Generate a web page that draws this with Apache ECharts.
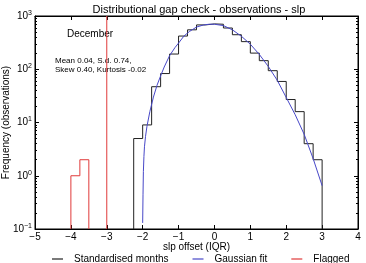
<!DOCTYPE html>
<html>
<head>
<meta charset="utf-8">
<script src="https://cdn.jsdelivr.net/npm/echarts@6/dist/echarts.min.js"></script>
<style>
html, body { margin: 0; padding: 0; background: #fff; }
#chart { width: 366px; height: 263px; }
</style>
</head>
<body>
<div id="chart"></div>
<script>
// histogram of standardised months, bins of 0.25 starting at -2.25
const binStart = -2.25
const binWidth = 0.25
const monthCounts = [5, 9, 47, 83, 193, 420, 550, 680, 710, 700, 595, 445, 330, 201, 145, 94, 59, 27, 16, 4, 2]

// flagged values, same bin width
const flaggedStart = -4
const flaggedCounts = [1, 2]

// gaussian fit curve
const fitX = [-2.0, -1.99, -1.98, -1.965, -1.95, -1.92, -1.88, -1.8, -1.7, -1.6, -1.5, -1.4, -1.25, -1.1, -1.0, -0.85, -0.7, -0.5, -0.3, -0.15, 0.0, 0.25, 0.5, 0.75, 1.0, 1.25, 1.5, 1.75, 2.0, 2.25, 2.5, 2.75, 3.0]
const fitY = [0.13, 0.45, 1.2, 2.3, 3.5, 5.5, 8.5, 16, 30, 50, 75, 110, 180, 255, 310, 420, 510, 620, 680, 700, 700, 660, 550, 417, 295, 190, 113, 62, 29.5, 14, 6, 2.1, 0.65]

const flagLine = -3
const xTicks = [-5, -4, -3, -2, -1, 0, 1, 2, 3, 4]
const yExponents = [-1, 0, 1, 2, 3]
const yFloor = Math.pow(10, yExponents[0])
const yTop = Math.pow(10, yExponents[yExponents.length - 1])

const stepPath = (start, width, counts) => {
  const pts = [[start, yFloor]]
  counts.forEach((c, i) => {
    pts.push([start + i * width, c])
    pts.push([start + (i + 1) * width, c])
  })
  pts.push([start + counts.length * width, yFloor])
  return pts
}

const font = 'Liberation Sans'
const minus = (v) => String(v).replace('-', '\u2212')

const black = '#222'
const blue = '#4848c8'
const red = '#e03a3a'

const chart = echarts.init(document.getElementById('chart'), null, { renderer: 'canvas' })

const xBase = {
  type: 'value',
  min: xTicks[0],
  max: xTicks[xTicks.length - 1],
  interval: 1,
  splitLine: { show: false },
  axisLine: { show: true, onZero: false, lineStyle: { color: '#000', width: 1 } },
  axisTick: { show: true, inside: true, length: 4, lineStyle: { color: '#000' } }
}

const yBase = {
  type: 'log',
  logBase: 10,
  min: yFloor,
  max: yTop,
  splitLine: { show: false },
  axisLine: { show: true, onZero: false, lineStyle: { color: '#000', width: 1 } },
  axisTick: { show: true, inside: true, length: 4, lineStyle: { color: '#000' } },
  minorTick: { show: true, splitNumber: 9, length: 2, lineStyle: { color: '#000' } }
}

const option = {
  animation: false,
  backgroundColor: '#fff',
  textStyle: { fontFamily: font },
  grid: { left: 35, right: 8, top: 16, bottom: 34, outerBoundsMode: 'none', show: true, borderColor: '#000', borderWidth: 1 },
  graphic: [
    { type: 'text', x: 199, y: 4, style: { text: 'Distributional gap check - observations - slp', font: '11px ' + font, fill: '#000', textAlign: 'center' } },
    { type: 'text', x: 67, y: 29, style: { text: 'December', font: '10px ' + font, fill: '#000' } },
    { type: 'text', x: 55, y: 56, style: { text: 'Mean 0.04, S.d. 0.74,\nSkew 0.40, Kurtosis -0.02', font: '8px ' + font, lineHeight: 9, fill: '#000' } }
  ],
  legend: {
    left: 52,
    top: 254,
    padding: 0,
    icon: 'rect',
    itemWidth: 11,
    itemHeight: 1.2,
    itemGap: 24,
    textStyle: { fontFamily: font, fontSize: 10, color: '#000', padding: [0, 0, 0, 6] },
    data: ['Standardised months', 'Gaussian fit', 'Flagged']
  },
  xAxis: [
    Object.assign({}, xBase, {
      position: 'bottom',
      name: 'slp offset (IQR)',
      nameLocation: 'middle',
      nameGap: 13,
      nameMoveOverlap: false,
      nameTextStyle: { fontFamily: font, fontSize: 10, color: '#000' },
      axisLabel: { margin: 3, fontFamily: font, fontSize: 10, color: '#000', formatter: minus }
    }),
    Object.assign({}, xBase, { position: 'top', axisLabel: { show: false } })
  ],
  yAxis: [
    Object.assign({}, yBase, {
      position: 'left',
      name: 'Frequency (observations)',
      nameLocation: 'middle',
      nameGap: 24,
      nameMoveOverlap: false,
      nameTextStyle: { fontFamily: font, fontSize: 10, color: '#000' },
      axisLabel: {
        margin: 3,
        color: '#000',
        formatter: (v) => '10{sup|' + minus(Math.round(Math.log10(v))) + '}',
        rich: {
          sup: { fontSize: 7, fontFamily: font, color: '#000', verticalAlign: 'top', padding: [0, 0, 6, 0] }
        },
        fontFamily: font,
        fontSize: 10
      }
    }),
    Object.assign({}, yBase, { position: 'right', axisLabel: { show: false } })
  ],
  series: [
    {
      name: 'Standardised months',
      type: 'line',
      data: stepPath(binStart, binWidth, monthCounts),
      symbol: 'none',
      itemStyle: { color: black },
      lineStyle: { color: black, width: 1 }
    },
    {
      name: 'Gaussian fit',
      type: 'line',
      data: fitX.map((x, i) => [x, fitY[i]]),
      symbol: 'none',
      itemStyle: { color: blue },
      lineStyle: { color: blue, width: 1 }
    },
    {
      name: 'Flagged',
      type: 'line',
      data: stepPath(flaggedStart, binWidth, flaggedCounts),
      symbol: 'none',
      itemStyle: { color: red },
      lineStyle: { color: red, width: 1 }
    },
    {
      // vertical threshold line, part of the flagged group
      name: 'Flagged',
      type: 'line',
      data: [[flagLine, yFloor], [flagLine, yTop]],
      symbol: 'none',
      itemStyle: { color: red },
      lineStyle: { color: red, width: 1 }
    }
  ]
}

chart.setOption(option)
</script>
</body>
</html>
